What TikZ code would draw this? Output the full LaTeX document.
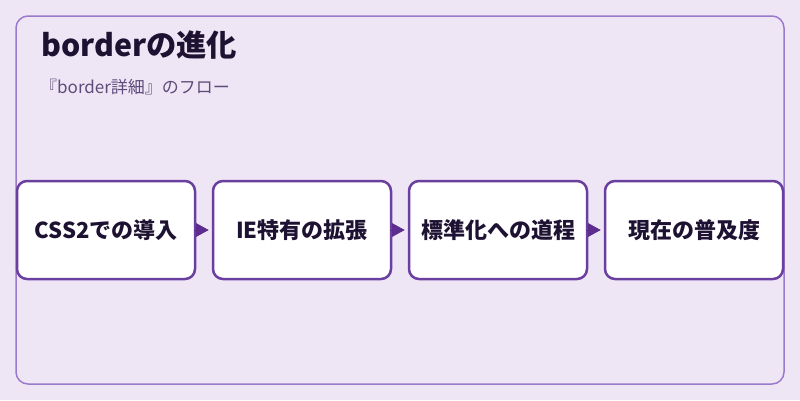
\documentclass[tikz,border=0pt]{standalone}
\usepackage{fontspec}
\setmainfont{Noto Sans CJK JP}
\usetikzlibrary{arrows.meta}
\definecolor{bgcol}{RGB}{238,230,245}
\definecolor{framecol}{RGB}{155,122,204}
\definecolor{boxcol}{RGB}{107,63,160}
\definecolor{arrowcol}{RGB}{92,45,142}
\definecolor{inkcol}{RGB}{30,18,50}
\definecolor{subcol}{RGB}{92,76,122}
\begin{document}
\begin{tikzpicture}[x=1pt,y=-1pt,
  stepbox/.style={draw=boxcol,line width=2.5pt,fill=white,rounded corners=10pt,
    minimum width=178pt,minimum height=98pt,inner sep=0pt,text=inkcol,
    font=\fontsize{22}{26}\selectfont\bfseries},
  link/.style={draw=arrowcol,line width=1pt,-{Triangle[length=13pt,width=14pt]},
    shorten >=3pt,shorten <=2pt}]
\fill[bgcol](0,0)rectangle(800,400);
\useasboundingbox(0,0)rectangle(800,400);
\draw[framecol,line width=1.5pt,rounded corners=12pt,fill=bgcol](16,16)rectangle(784,384);
\node[anchor=base west,text=inkcol,font=\fontsize{30.3}{34}\selectfont\bfseries,inner sep=0pt](title)at(41,56){borderの進化};
\node[anchor=base west,text=subcol,font=\fontsize{17}{20}\selectfont,inner sep=0pt](sub)at(40,93){『border詳細』のフロー};
\node[stepbox](s1)at(106,230){CSS2での導入};
\node[stepbox](s2)at(302,230){IE特有の拡張};
\node[stepbox](s3)at(498,230){標準化への道程};
\node[stepbox](s4)at(694,230){現在の普及度};
\draw[link](s1)--(s2);
\draw[link](s2)--(s3);
\draw[link](s3)--(s4);
\end{tikzpicture}
\end{document}
